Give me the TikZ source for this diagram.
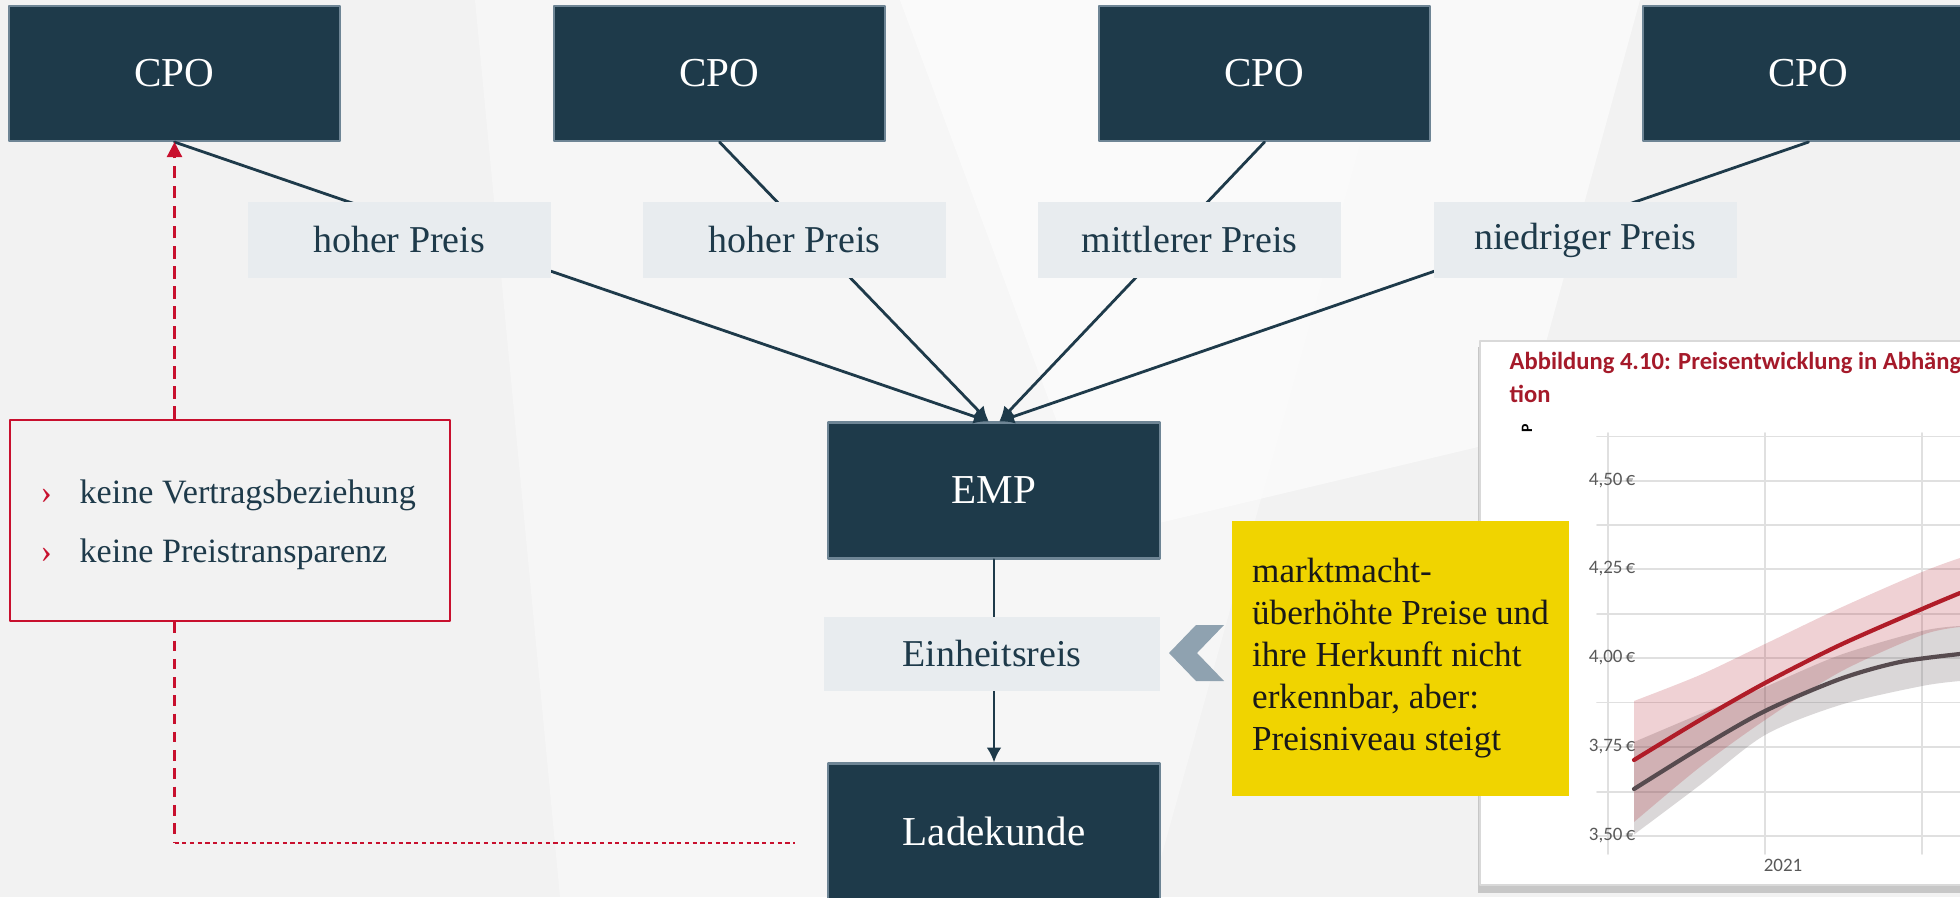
\documentclass[tikz,border=0pt]{standalone}
\usepackage{fontspec}
\setmainfont{Liberation Serif}
\newfontfamily\chartfont{Carlito}
\usetikzlibrary{arrows.meta}
\definecolor{navy}{HTML}{1E3A4A}
\definecolor{navyedge}{HTML}{6E8595}
\definecolor{tagfill}{HTML}{E8ECEF}
\definecolor{bggray}{HTML}{F2F2F2}
\definecolor{crimson}{HTML}{C8102E}
\definecolor{signal}{HTML}{F0D400}
\definecolor{chevron}{HTML}{8FA2B0}
\definecolor{chartred}{HTML}{B01C28}
\definecolor{chartgray}{HTML}{574B4F}
\definecolor{titlered}{HTML}{A51A2A}

\begin{document}
\begin{tikzpicture}[>=Latex, line cap=round, line join=round,
  actor/.style={fill=navy, draw=navyedge, line width=0.6pt, text=white,
    minimum width=3.31cm, minimum height=1.35cm, inner sep=0pt,
    font=\fontsize{11.7}{14}\selectfont},
  tag/.style={fill=tagfill, text=navy, minimum width=3.03cm,
    minimum height=0.76cm, inner sep=0pt, font=\fontsize{10.8}{13}\selectfont},
  link/.style={navy, line width=0.8pt, -{Latex[length=4.2pt,width=4.2pt]}},
  hint/.style={crimson, line width=0.7pt, line cap=butt},
  bullet/.style={text=navy, inner sep=0pt, font=\fontsize{9.7}{11}\selectfont},
  chartgrid/.style={black!12, line width=0.5pt},
  charttitle/.style={anchor=base west, inner sep=0pt, text=titlered,
    font=\chartfont\bfseries\fontsize{7}{8}\selectfont},
  axislabel/.style={text=black!65, inner sep=0pt, font=\chartfont\fontsize{5.4}{6}\selectfont}]
  \useasboundingbox (0,0) rectangle (19.6,8.97);
  \fill[bggray] (0,0) rectangle (19.6,8.97);
  \fill[white, opacity=.35] (4.75,8.97) -- (14.0,8.97) -- (11.5,0) -- (5.6,0) -- cycle;
  \fill[white, opacity=.55] (9.0,8.97) -- (16.4,8.97) -- (15.2,4.6) -- (11.0,3.6) -- cycle;

  % chart cut-out on the right
  \fill[black!22] (14.78,0.04) rectangle (19.7,5.50);
  \filldraw[fill=white, draw=black!15, line width=0.8pt] (14.80,0.12) rectangle (19.7,5.56);
  \foreach \y in {4.605,4.16,3.72,3.28,2.83,2.39,1.945,1.50,1.05,0.61}
    \draw[chartgrid] (15.97,\y) -- (19.6,\y);
  \foreach \x in {16.08,17.65,19.22}
    \draw[chartgrid] (\x,4.64) -- (\x,0.43);
  \foreach \y/\v in {4.16/{4,50}, 3.28/{4,25}, 2.39/{4,00}, 1.50/{3,75}, 0.61/{3,50}}
    \node[axislabel, anchor=east] at (16.36,\y) {\v\,€};
  \node[axislabel] at (17.83,0.32) {2021};
  \node[charttitle] (title) at (15.09,5.28) {Abbildung 4.10: Preisentwicklung in Abhäng};
  \node[charttitle] (title2) at (15.09,4.943) {tion};
  \node[rotate=90, inner sep=0pt, font=\chartfont\bfseries\fontsize{4.5}{5}\selectfont] at (15.27,4.69) {P};
  \fill[chartgray, opacity=.22] plot[smooth] coordinates {(16.34,1.55) (17.0,1.83) (17.65,2.10) (18.4,2.42) (19.22,2.66) (19.6,2.71)}
    -- plot[smooth] coordinates {(19.6,2.16) (19.22,2.11) (18.4,1.92) (17.65,1.62) (17.0,1.12) (16.34,0.625)} -- cycle;
  \fill[chartred, opacity=.2] plot[smooth] coordinates {(16.34,1.96) (17.0,2.22) (17.65,2.53) (18.4,2.89) (19.22,3.25) (19.6,3.39)}
    -- plot[smooth] coordinates {(19.6,2.70) (19.22,2.62) (18.4,2.25) (17.65,1.77) (17.0,1.30) (16.34,0.75)} -- cycle;
  \draw[chartgray, line width=1.2pt] plot[smooth] coordinates {(16.34,1.08) (17.0,1.49) (17.65,1.86) (18.4,2.18) (19.0,2.35) (19.6,2.43)};
  \draw[chartred, line width=1.2pt] plot[smooth] coordinates {(16.34,1.37) (17.0,1.77) (17.65,2.14) (18.4,2.52) (19.22,2.88) (19.6,3.04)};

  % market actors
  \foreach \x/\n in {1.745/1, 7.195/2, 12.645/3, 18.085/4}
    \node[actor] (cpo\n) at (\x,8.235) {CPO};
  \node[actor, minimum width=3.32cm, minimum height=1.36cm] (emp) at (9.94,4.065) {EMP};
  \node[actor, minimum width=3.32cm, minimum height=1.36cm] (kunde) at (9.94,0.655) {Ladekunde};

  \foreach \n in {1,2}
    \draw[link] (cpo\n.south) -- ([xshift=-1.5pt]emp.north);
  \foreach \n in {3,4}
    \draw[link] (cpo\n.south) -- ([xshift=1.5pt]emp.north);
  \draw[link] (emp.south) -- (kunde.north);

  \node[tag] (p1) at (3.99,6.57) {hoher Preis};
  \node[tag] (p2) at (7.945,6.57) {hoher Preis};
  \node[tag] (p3) at (11.895,6.57) {mittlerer Preis};
  \node[tag] (p4) at (15.855,6.57) {niedriger Preis};
  \node[tag, minimum width=3.36cm, minimum height=0.74cm] (unit) at (9.92,2.43) {Einheitsreis};

  % missing relation between customer and CPO
  \node[draw=crimson, fill=bggray, line width=0.7pt, minimum width=4.40cm,
    minimum height=2.01cm] (gaps) at (2.30,3.765) {};
  \node[bullet, anchor=west] (noContract) at (0.40,4.02)
    {\makebox[0.39cm][l]{\textcolor{crimson}{›}}keine Vertragsbeziehung};
  \node[bullet, anchor=west] (noPrices) at (0.40,3.43)
    {\makebox[0.39cm][l]{\textcolor{crimson}{›}}keine Preistransparenz};
  \coordinate (kundeL) at (7.95,0.54);
  \draw[hint, dash pattern=on 3.5pt off 2.2pt, -{Triangle[length=4.3pt,width=4.3pt]}]
    (cpo1.south |- gaps.north) -- (cpo1.south);
  \draw[hint, dash pattern=on 3pt off 2.2pt] (cpo1.south |- gaps.south) -- (cpo1.south |- kundeL);
  \draw[hint, dash pattern=on 1.2pt off 1pt] (cpo1.south |- kundeL) -- (kundeL);

  % hint box
  \fill[chevron] (11.96,2.72) -- (12.24,2.72) -- (11.97,2.44) -- (12.24,2.16) -- (11.96,2.16) -- (11.69,2.44) -- cycle;
  \node[fill=signal, minimum width=3.37cm, minimum height=2.75cm, inner sep=0pt,
    align=left, text=black!90, font=\fontsize{10}{11.95}\selectfont] (note) at (14.005,2.385)
    {marktmacht-\\überhöhte Preise und\\ihre Herkunft nicht\\erkennbar, aber:\\Preisniveau steigt};
\end{tikzpicture}
\end{document}
